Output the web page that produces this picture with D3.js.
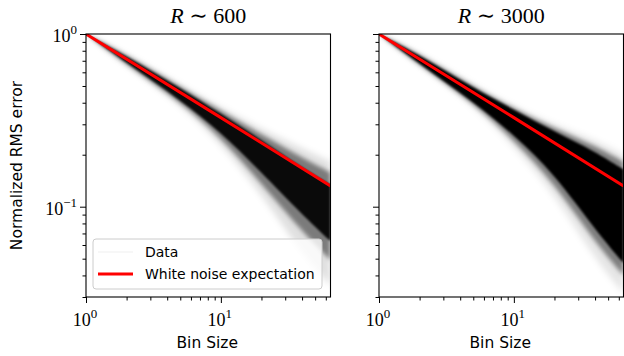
<!DOCTYPE html>
<html>
<head>
<meta charset="utf-8">
<script src="https://cdn.jsdelivr.net/npm/d3@7"></script>
<style>
  body { margin: 0; background: #fff; }
  svg { display: block; }
  .axis path.domain { display: none; }
  .axis line { stroke: #000; stroke-width: 1; }
  .lbl { font-family: "DejaVu Sans", sans-serif; font-size: 15.5px; fill: #000; }
  .tick-lbl { font-family: "Liberation Serif", "DejaVu Serif", serif; font-size: 18px; fill: #000; }
  .title { font-family: "Liberation Serif", "DejaVu Serif", serif; font-size: 22px; fill: #000; }
  .legend text { font-family: "DejaVu Sans", sans-serif; font-size: 14px; fill: #000; }
</style>
</head>
<body>
<div id="chart"></div>
<script>
// bin sizes where the envelope of the data cloud was read
const binSizes = [1, 2, 5, 10, 20, 40, 65]

// R ~ 600 : envelopes of the many faint curves (upper / lower)
const r600_outerHi = [1, 0.766, 0.507, 0.375, 0.282, 0.218, 0.182]
const r600_outerLo = [1, 0.653, 0.392, 0.232, 0.118, 0.0530, 0.0350]
const r600_midHi   = [1, 0.756, 0.497, 0.360, 0.262, 0.192, 0.158]
const r600_midLo   = [1, 0.665, 0.403, 0.252, 0.136, 0.0720, 0.0490]
const r600_coreHi  = [1, 0.746, 0.487, 0.345, 0.244, 0.168, 0.134]
const r600_coreLo  = [1, 0.680, 0.415, 0.270, 0.158, 0.0900, 0.0630]

// R ~ 3000
const r3000_outerHi = [1, 0.777, 0.507, 0.380, 0.298, 0.244, 0.200]
const r3000_outerLo = [1, 0.653, 0.389, 0.223, 0.118, 0.0494, 0.0315]
const r3000_midHi   = [1, 0.766, 0.497, 0.372, 0.285, 0.226, 0.182]
const r3000_midLo   = [1, 0.662, 0.397, 0.242, 0.136, 0.0620, 0.0400]
const r3000_coreHi  = [1, 0.756, 0.487, 0.364, 0.272, 0.209, 0.164]
const r3000_coreLo  = [1, 0.671, 0.405, 0.261, 0.155, 0.0736, 0.0470]

// white noise expectation
const expectBins = [1, 10, 65]
const expectVals = [1, 0.328, 0.132]

const panelTitles = ['600', '3000']
const xMajor = [1, 10]
const xMinor = [2, 3, 4, 5, 6, 7, 8, 9, 20, 30, 40, 50, 60]
const yMajor = [1, 0.1]
const yMinor = [0.03, 0.04, 0.05, 0.06, 0.07, 0.08, 0.09, 0.2, 0.3, 0.4, 0.5, 0.6, 0.7, 0.8, 0.9]
const xLabels = {1: '0', 10: '1'}
const yLabels = {1: '0', 0.1: '\u22121'}

const W = 624, H = 356
const plotTop = 34, plotBottom = 297
const lefts = [86, 379]
const pw = 244.5

const svg = d3.select('#chart').append('svg').attr('width', W).attr('height', H)
const defs = svg.append('defs')
;[['blurOuter', 3], ['blurMid', 2], ['blurCore', 0.9]].forEach(f => {
	defs.append('filter').attr('id', f[0])
		.attr('x', '-10%').attr('y', '-10%').attr('width', '120%').attr('height', '120%')
		.append('feGaussianBlur').attr('stdDeviation', f[1])
})

const y = d3.scaleLog().domain([0.03, 1]).range([plotBottom, plotTop])

function rows(hi, lo) {
	return binSizes.map((b, i) => ({b: b, hi: hi[i], lo: lo[i]}))
}

function pow10(sel, base, exp) {
	sel.append('tspan').text(base)
	sel.append('tspan').attr('dy', -8).attr('font-size', 13).text(exp)
}

function drawPanel(idx, bands) {
	const left = lefts[idx]
	const x = d3.scaleLog().domain([1, 65]).range([left, left + pw])
	const g = svg.append('g')

	defs.append('clipPath').attr('id', 'clip' + idx)
		.append('rect').attr('x', left).attr('y', plotTop).attr('width', pw).attr('height', plotBottom - plotTop)

	const area = d3.area()
		.x(d => x(d.b)).y0(d => y(d.lo)).y1(d => y(d.hi))
		.curve(d3.curveBasis)

	const cloud = g.append('g').attr('clip-path', 'url(#clip' + idx + ')')
	bands.forEach(bd => {
		cloud.append('path')
			.datum(rows(bd.hi, bd.lo))
			.attr('d', area)
			.attr('fill', '#000')
			.attr('fill-opacity', bd.op)
			.attr('filter', 'url(#' + bd.blur + ')')
	})

	const line = d3.line().x(d => x(d[0])).y(d => y(d[1]))
	cloud.append('path')
		.datum(expectBins.map((b, i) => [b, expectVals[i]]))
		.attr('d', line)
		.attr('fill', 'none')
		.attr('stroke', '#ff0000')
		.attr('stroke-width', 3)

	// ticks
	g.append('g').attr('class', 'axis').attr('transform', 'translate(0,' + plotBottom + ')')
		.call(d3.axisBottom(x).tickValues(xMajor).tickSize(6).tickSizeOuter(0).tickFormat(''))
	g.append('g').attr('class', 'axis').attr('transform', 'translate(0,' + plotBottom + ')')
		.call(d3.axisBottom(x).tickValues(xMinor).tickSize(3.5).tickSizeOuter(0).tickFormat(''))
	g.append('g').attr('class', 'axis').attr('transform', 'translate(' + left + ',0)')
		.call(d3.axisLeft(y).tickValues(yMajor).tickSize(6).tickSizeOuter(0).tickFormat(''))
	g.append('g').attr('class', 'axis').attr('transform', 'translate(' + left + ',0)')
		.call(d3.axisLeft(y).tickValues(yMinor).tickSize(3.5).tickSizeOuter(0).tickFormat(''))

	g.append('rect')
		.attr('x', left).attr('y', plotTop).attr('width', pw).attr('height', plotBottom - plotTop)
		.attr('fill', 'none').attr('stroke', '#000').attr('stroke-width', 1.1)

	xMajor.forEach(v => {
		const t = g.append('text').attr('class', 'tick-lbl')
			.attr('x', x(v) - 1).attr('y', 326).attr('text-anchor', 'middle')
		pow10(t, '10', xLabels[v])
	})
	if (idx === 0) {
		yMajor.forEach(v => {
			const t = g.append('text').attr('class', 'tick-lbl')
				.attr('x', left - 9).attr('y', y(v) + 8).attr('text-anchor', 'end')
			pow10(t, '10', yLabels[v])
		})
	}

	g.append('text').attr('class', 'lbl')
		.attr('x', left + pw / 2 - 1).attr('y', 348).attr('text-anchor', 'middle')
		.text('Bin Size')

	const tt = g.append('text').attr('class', 'title')
		.attr('x', left + pw / 2).attr('y', 23).attr('text-anchor', 'middle')
	tt.append('tspan').attr('font-style', 'italic').text('R')
	tt.append('tspan').text(' \u223C ' + panelTitles[idx])
}

drawPanel(0, [
	{hi: r600_outerHi, lo: r600_outerLo, op: 0.12, blur: 'blurOuter'},
	{hi: r600_midHi, lo: r600_midLo, op: 0.45, blur: 'blurMid'},
	{hi: r600_coreHi, lo: r600_coreLo, op: 0.92, blur: 'blurCore'}
])
drawPanel(1, [
	{hi: r3000_outerHi, lo: r3000_outerLo, op: 0.1, blur: 'blurOuter'},
	{hi: r3000_midHi, lo: r3000_midLo, op: 0.45, blur: 'blurMid'},
	{hi: r3000_coreHi, lo: r3000_coreLo, op: 1, blur: 'blurCore'}
])

svg.append('text').attr('class', 'lbl')
	.attr('transform', 'translate(22,' + ((plotTop + plotBottom) / 2) + ') rotate(-90)')
	.attr('text-anchor', 'middle')
	.text('Normalized RMS error')

// legend
const lg = svg.append('g').attr('class', 'legend')
lg.append('rect')
	.attr('x', 93).attr('y', 239).attr('width', 229).attr('height', 50).attr('rx', 3)
	.attr('fill', '#fff').attr('fill-opacity', 0.8)
	.attr('stroke', '#cccccc').attr('stroke-width', 1)
lg.append('line').attr('x1', 98).attr('x2', 133).attr('y1', 252).attr('y2', 252)
	.attr('stroke', '#000').attr('stroke-opacity', 0.03).attr('stroke-width', 2)
lg.append('text').attr('x', 145).attr('y', 257).text('Data')
lg.append('line').attr('x1', 98).attr('x2', 133).attr('y1', 274).attr('y2', 274)
	.attr('stroke', '#ff0000').attr('stroke-width', 3)
lg.append('text').attr('x', 145).attr('y', 279).text('White noise expectation')
</script>
</body>
</html>
